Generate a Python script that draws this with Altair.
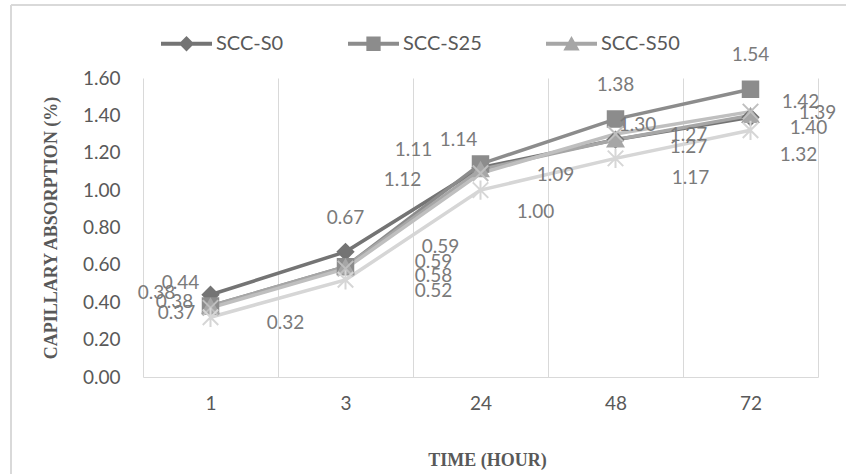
import altair as alt
import pandas as pd

# ---- data ----
times = ["1", "3", "24", "48", "72"]
series = ["SCC-S0", "SCC-S25", "SCC-S50", "SCC-S75", "SCC-S100"]
s0 = [0.44, 0.67, 1.12, 1.27, 1.39]
s25 = [0.38, 0.59, 1.14, 1.38, 1.54]
s50 = [0.38, 0.59, 1.11, 1.27, 1.40]
s75 = [0.37, 0.58, 1.09, 1.30, 1.42]
s100 = [0.32, 0.52, 1.00, 1.17, 1.32]
values = [s0, s25, s50, s75, s100]
y_ticks = [0.0, 0.2, 0.4, 0.6, 0.8, 1.0, 1.2, 1.4, 1.6]
legend_series = ["SCC-S0", "SCC-S25", "SCC-S50"]

# ---- styling (label offsets in pixels, relative to each point) ----
label_dx = [
    [-30, 0, -78, 73, 67],
    [-54, 95, -22, 0, 0],
    [-36, 88, -67, 73, 58],
    [-34, 88, 75, 22, 50],
    [75, 88, 55, 75, 48],
]
label_dy = [
    [-12, -34, 12, 7, -4],
    [-13, -20, -24, -34, -34],
    [-4, -5, -20, -5, 13],
    [5, 7, 2, -9, -10],
    [6, 11, 22, 20, 25],
]
colors = ["#747474", "#8c8c8c", "#a6a6a6", "#bfbfbf", "#d6d6d6"]
shapes = [
    "diamond",
    "square",
    "triangle-up",
    "M-1,-1L1,1M-1,1L1,-1",
    "M-1,-1L1,1M-1,1L1,-1M0,-1.25L0,1.25",
]
bar = "M-1,-0.075H1V0.075H-1Z"
legend_paths = [
    bar + "M0,-0.3L0.3,0L0,0.3L-0.3,0Z",
    bar + "M-0.28,-0.28H0.28V0.28H-0.28Z",
    bar + "M0,-0.3L0.32,0.26L-0.32,0.26Z",
]

rows = []
for si, name in enumerate(series):
    for ti, t in enumerate(times):
        v = values[si][ti]
        rows.append({
            "series": name,
            "time": t,
            "value": v,
            "label": f"{v:.2f}",
            "ldx": label_dx[si][ti],
            "ldy": label_dy[si][ti],
        })
df = pd.DataFrame(rows)

FONT = "Lato"
GRAY = "#595959"
GRID = "#d9d9d9"

x_enc = alt.X(
    "time:N",
    sort=times,
    scale=alt.Scale(type="band", paddingInner=0, paddingOuter=0),
    axis=alt.Axis(
        title="TIME (HOUR)",
        titleFont="Liberation Serif",
        titleFontWeight="bold",
        titleFontSize=18,
        titleColor=GRAY,
        titlePadding=38,
        titleX=344,
        labelAngle=0,
        labelFont=FONT,
        labelFontSize=19,
        labelColor=GRAY,
        labelPadding=17,
        ticks=False,
        tickBand="extent",
        grid=True,
        gridColor=GRID,
        gridWidth=1,
        domainColor=GRID,
        domainWidth=1,
    ),
)
y_enc = alt.Y(
    "value:Q",
    scale=alt.Scale(domain=[0, 1.6], nice=False),
    axis=alt.Axis(
        title="CAPILLARY ABSORPTION (%)",
        titleFont="Liberation Serif",
        titleFontWeight="bold",
        titleFontSize=18,
        titleColor=GRAY,
        titlePadding=22,
        values=y_ticks,
        format=".2f",
        labelFont=FONT,
        labelFontSize=19,
        labelColor=GRAY,
        labelPadding=23,
        ticks=False,
        tickSize=0,
        domain=False,
        grid=False,
    ),
)
color_enc = alt.Color("series:N", scale=alt.Scale(domain=series, range=colors), legend=None)

base = alt.Chart(df)

lines = base.mark_line(strokeWidth=3.5).encode(x=x_enc, y=y_enc, color=color_enc, detail="series:N")

points = base.mark_point(filled=True, size=240, opacity=1, strokeWidth=2).encode(
    x=x_enc,
    y=y_enc,
    fill=alt.Fill("series:N", scale=alt.Scale(domain=series, range=colors), legend=None),
    stroke=alt.Stroke("series:N", scale=alt.Scale(domain=series, range=colors), legend=None),
    shape=alt.Shape("series:N", scale=alt.Scale(domain=series, range=shapes), legend=None),
)

labels = base.mark_text(
    font=FONT,
    fontSize=19,
    color="#7a7a7a",
    align="center",
    baseline="middle",
    dx=alt.ExprRef(expr="datum.ldx"),
    dy=alt.ExprRef(expr="datum.ldy"),
).encode(
    x=x_enc,
    y=y_enc,
    text="label:N",
)

leg = alt.Legend(
    title=None,
    orient="none",
    legendX=18,
    legendY=-60,
    direction="horizontal",
    labelFont=FONT,
    labelFontSize=20,
    labelColor=GRAY,
    labelOffset=4,
    columnPadding=64,
    symbolSize=2601,
    symbolStrokeWidth=0,
)
legend_layer = base.transform_filter("false").mark_point(
    filled=True, size=2601, opacity=1, strokeWidth=0
).encode(
    x=x_enc,
    y=y_enc,
    color=alt.Color("series:N", scale=alt.Scale(domain=legend_series, range=colors[:3]), legend=leg),
    shape=alt.Shape("series:N", scale=alt.Scale(domain=legend_series, range=legend_paths), legend=leg),
)

frame_left = alt.Chart(df).mark_rule(color=GRID, strokeWidth=1.5).encode(
    x=alt.value(-132), y=alt.value(-73), y2=alt.value(420)
)
frame_top = alt.Chart(df).mark_rule(color=GRID, strokeWidth=1.5).encode(
    x=alt.value(-132), x2=alt.value(720), y=alt.value(-73)
)

chart = (
    alt.layer(frame_left, frame_top, lines, points, labels, legend_layer)
    .resolve_scale(shape="independent", color="independent")
    .properties(
        width=675,
        height=299,
        padding={"left": 143, "top": 78, "right": 28, "bottom": 97},
        autosize=alt.AutoSizeParams(type="none"),
        background="white",
    )
    .configure_view(stroke=None)
)

chart.save("out.html", embed_options={"renderer": "svg", "actions": False})
